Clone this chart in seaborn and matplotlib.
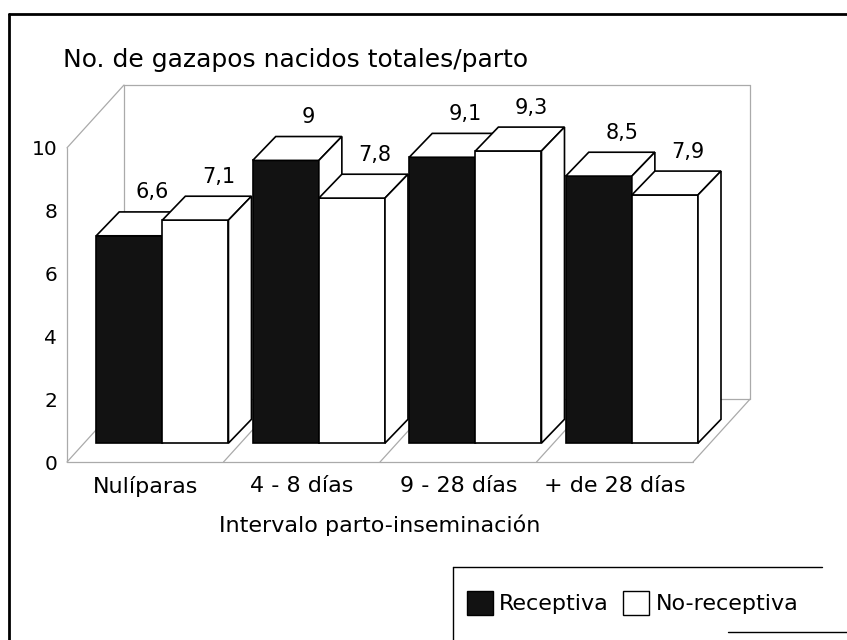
import pandas as pd
import matplotlib.pyplot as plt
import seaborn as sns
from matplotlib.patches import Polygon
from matplotlib.lines import Line2D

categories = ["Nulíparas", "4 - 8 días", "9 - 28 días", "+ de 28 días"]
series = ["Receptiva", "No-receptiva"]
receptiva = [6.6, 9.0, 9.1, 8.5]
no_receptiva = [7.1, 7.8, 9.3, 7.9]
yticks = [0, 2, 4, 6, 8, 10]

df = pd.DataFrame({
    "intervalo": categories * 2,
    "grupo": [series[0]] * len(categories) + [series[1]] * len(categories),
    "valor": receptiva + no_receptiva,
})

sns.set_style("white")
plt.rcParams["font.family"] = ["DejaVu Sans"]
plt.rcParams["text.color"] = "black"
plt.rcParams["xtick.color"] = "black"
plt.rcParams["ytick.color"] = "black"

W, H = 847, 640
fig = plt.figure(figsize=(W / 100, H / 100), dpi=100)

# depth of the 3D box (data units), bar placement inside it and bar depth
DX, DY = 0.364, 2.0
OX, OY = 0.3 * DX, 0.3 * DY
BX, BY = 0.147, 0.76

ax = fig.add_axes([67 / W, (H - 462) / H, (750 - 67) / W, (462 - 85) / H])
sns.barplot(data=df, x="intervalo", y="valor", hue="grupo",
            order=categories, hue_order=series,
            palette={"Receptiva": "#121212", "No-receptiva": "white"},
            edgecolor="black", linewidth=1.2, width=0.845,
            errorbar=None, ax=ax)

ax.set_xlim(-0.5, 3.5 + DX)
ax.set_ylim(0, 10 + DY)
ax.set_facecolor("none")

# box walls and floor
wall = dict(color="#aaaaaa", lw=0.9, zorder=0.5, clip_on=False)
x0, x1 = -0.5, 3.5
ax.plot([x0, x1], [0, 0], **wall)
ax.plot([x1, x1 + DX], [0, DY], **wall)
ax.plot([x0 + DX, x1 + DX], [DY, DY], **wall)
ax.plot([x0, x0], [0, 10], **wall)
ax.plot([x0, x0 + DX], [0, DY], **wall)
ax.plot([x0, x0 + DX], [10, 10 + DY], **wall)
ax.plot([x0 + DX, x0 + DX], [DY, 10 + DY], **wall)
ax.plot([x1 + DX, x1 + DX], [DY, 10 + DY], **wall)
ax.plot([x0 + DX, x1 + DX], [10 + DY, 10 + DY], **wall)
for k in range(1, len(categories)):
    ax.plot([k - 0.5, k - 0.5 + DX], [0, DY], **wall)

# turn the flat bars into boxes, painted left to right
bars = sorted([p for p in ax.patches if p.get_width() > 0], key=lambda p: p.get_x())
for i, p in enumerate(bars):
    bx = p.get_x() + OX
    w, h = p.get_width(), p.get_height()
    z = 2 + i
    p.set_x(bx)
    p.set_y(OY)
    p.set_zorder(z)
    top = [(bx, OY + h), (bx + w, OY + h), (bx + w + BX, OY + h + BY), (bx + BX, OY + h + BY)]
    side = [(bx + w, OY), (bx + w + BX, OY + BY), (bx + w + BX, OY + h + BY), (bx + w, OY + h)]
    for pts in (top, side):
        ax.add_patch(Polygon(pts, closed=True, facecolor="white", edgecolor="black",
                             lw=1.2, zorder=z))
    ax.annotate(f"{h:g}".replace(".", ","), (bx + w / 2 + BX, OY + h + BY),
                xytext=(0, 14), textcoords="offset points",
                ha="center", va="center", fontsize=15, zorder=30)

ax.set_yticks(yticks)
ax.set_yticklabels([str(t) for t in yticks])
ax.tick_params(axis="y", length=0, pad=7, labelsize=14.5)
ax.tick_params(axis="x", length=0, pad=10, labelsize=16)
ax.set_xlabel("")
ax.set_ylabel("")
sns.despine(ax=ax, left=True, bottom=True)

# legend
leg = ax.get_legend()
handles = leg.legend_handles
labels = [t.get_text() for t in leg.get_texts()]
leg.remove()
for hd in handles:
    hd.set_edgecolor("black")
    hd.set_linewidth(1)
fig.legend(handles, labels, loc="center left", bbox_to_anchor=(467 / W, 1 - 603 / H),
           ncol=2, frameon=False, fontsize=16, handlelength=1.15, handleheight=1.3,
           handletextpad=0.3, columnspacing=0.65, borderpad=0, borderaxespad=0)
fig.add_artist(Line2D([453 / W, 822 / W], [1 - 567 / H, 1 - 567 / H], color="black", lw=1))
fig.add_artist(Line2D([453 / W, 453 / W], [1 - 567 / H, 0], color="black", lw=1))

# page frame
fig.add_artist(Line2D([9 / W, 1], [1 - 14 / H, 1 - 14 / H], color="black", lw=2))
fig.add_artist(Line2D([9 / W, 9 / W], [1 - 14 / H, 0], color="black", lw=2))
fig.add_artist(Line2D([728 / W, 1], [1 - 632 / H, 1 - 632 / H], color="black", lw=1))

fig.text(63 / W, 1 - 60 / H, "No. de gazapos nacidos totales/parto", fontsize=18, va="center")
fig.text(380 / W, 1 - 525 / H, "Intervalo parto-inseminación", fontsize=16,
         ha="center", va="center")

fig.savefig("out.png", dpi=100)
